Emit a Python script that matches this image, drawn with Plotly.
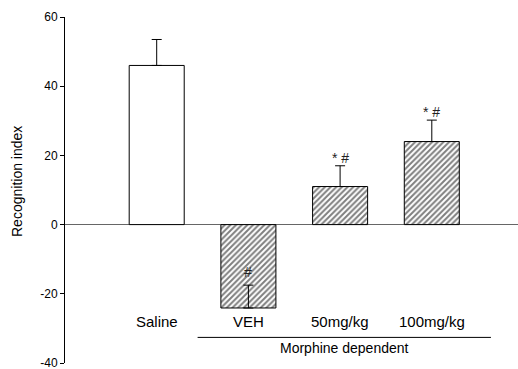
import plotly.graph_objects as go

categories = ["Saline", "VEH", "50mg/kg", "100mg/kg"]
values = [46.0, -24.1, 11.0, 24.0]
errors = [7.5, 6.6, 6.0, 6.2]
markers = ["", "#", "* #", "* #"]
group_label = "Morphine dependent"
y_title = "Recognition index"
y_ticks = [-40, -20, 0, 20, 40, 60]
y_tick_text = ["-40", "-20", "0", "20", "40", "60"]

x = list(range(len(categories)))
font = "Liberation Sans, Arial, sans-serif"

fig = go.Figure()
fig.add_trace(go.Bar(
    x=x, y=values, width=0.6,
    marker=dict(
        color="white",
        line=dict(color="black", width=1),
        pattern=dict(
            shape=["", "/", "/", "/"],
            fgcolor="black", bgcolor="white", size=4, solidity=0.5,
        ),
    ),
    error_y=dict(type="data", symmetric=False, array=errors,
                 arrayminus=[0] * len(errors), color="black",
                 thickness=1, width=5),
    showlegend=False,
))

annotations = []
for i, c in enumerate(categories):
    annotations.append(dict(x=i, y=-28, xref="x", yref="y", text=c,
                            showarrow=False, font=dict(size=15, color="black", family=font)))
for i, m in enumerate(markers):
    if not m:
        continue
    if values[i] < 0:
        ypos = values[i] + errors[i] + 3.7
    else:
        ypos = values[i] + errors[i] + 2.3
    annotations.append(dict(x=i, y=ypos, xref="x", yref="y", text=m,
                            showarrow=False, font=dict(size=14, color="#222", family=font)))
annotations.append(dict(x=2.05, y=-35.8, xref="x", yref="y", text=group_label,
                        showarrow=False, font=dict(size=14, color="black", family=font)))
annotations.append(dict(x=-0.106, y=0.526, xref="paper", yref="paper", text=y_title,
                        textangle=-90, xanchor="center", yanchor="middle",
                        showarrow=False, font=dict(size=14, color="black", family=font)))

fig.add_shape(type="line", x0=0.446, x1=3.645, y0=-32.6, y1=-32.6,
              xref="x", yref="y", line=dict(color="black", width=1))

fig.update_layout(
    width=518, height=369,
    margin=dict(l=65, r=0, t=17, b=6),
    paper_bgcolor="white", plot_bgcolor="white",
    font=dict(family=font, size=12, color="black"),
    annotations=annotations,
    xaxis=dict(range=[-1.0, 3.94], showgrid=False, showline=False,
               showticklabels=False, zeroline=False, ticks=""),
    yaxis=dict(range=[-40, 60], tickvals=y_ticks, ticktext=y_tick_text,
               showgrid=False, ticklabeloverflow="allow",
               showline=True, linecolor="black", linewidth=1,
               ticks="outside", ticklen=4, tickcolor="black",
               zeroline=True, zerolinecolor="#666", zerolinewidth=1,
               tickfont=dict(size=12)),
)

fig.write_html("out.html")
